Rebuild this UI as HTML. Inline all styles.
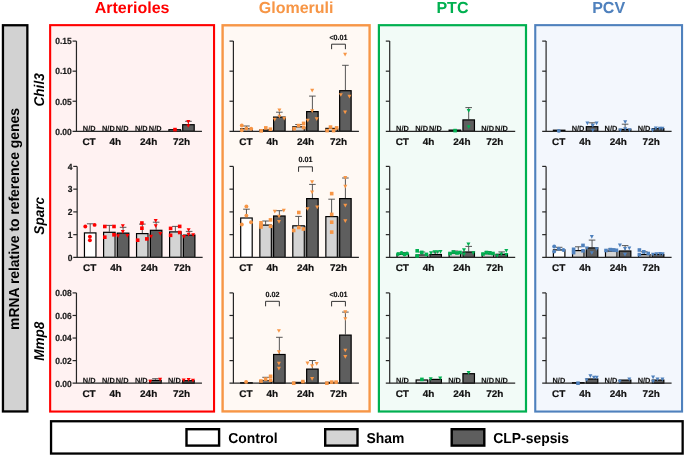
<!DOCTYPE html>
<html><head><meta charset="utf-8"><style>
html,body{margin:0;padding:0;background:#fff;width:685px;height:457px;overflow:hidden}
svg{display:block;will-change:transform}
text{font-family:"Liberation Sans",sans-serif;font-weight:bold;text-rendering:geometricPrecision}
.ttl{font-size:16px}
.ylab{font-size:13.9px;fill:#000}
.gene{font-size:13.6px;font-style:italic;fill:#000}
.yt{font-size:8.5px;fill:#1a1a1a;stroke:#1a1a1a;stroke-width:0.2px}
.xt{font-size:10px;fill:#111;stroke:#111;stroke-width:0.2px}
.nd{font-size:7.4px;fill:#111;stroke:#111;stroke-width:0.1px}
.sig{font-size:7.2px;fill:#111;stroke:#111;stroke-width:0.15px}
.leg{font-size:13.9px;fill:#000}
</style></head><body>
<svg width="685" height="457" viewBox="0 0 685 457">
<rect x="50.15" y="25.15" width="163.9" height="386.4" fill="#fff2f2" stroke="#ff0000" stroke-width="2.1"/>
<text transform="translate(132.1,13)" text-anchor="middle" class="ttl" fill="#ff0000">Arterioles</text>
<rect x="222.6" y="25.3" width="147" height="386.1" fill="#fff9f4" stroke="#f79646" stroke-width="2.4"/>
<text transform="translate(296.1,13)" text-anchor="middle" class="ttl" fill="#f79646">Glomeruli</text>
<rect x="378.9" y="25.2" width="147.1" height="386.3" fill="#f2fbf7" stroke="#00b050" stroke-width="2.2"/>
<text transform="translate(452.45,13)" text-anchor="middle" class="ttl" fill="#00b050">PTC</text>
<rect x="535.25" y="25.15" width="146.8" height="386.4" fill="#f3f7fd" stroke="#4f81bd" stroke-width="2.1"/>
<text transform="translate(608.65,13)" text-anchor="middle" class="ttl" fill="#4f81bd">PCV</text>
<rect x="2.95" y="25.25" width="24.4" height="386.2" fill="#d2d2d2" stroke="#000" stroke-width="2.3"/>
<text transform="translate(19.3,219) rotate(-90) scale(1,1.04)" text-anchor="middle" class="ylab">mRNA relative to reference genes</text>
<text transform="translate(44.4,89.9) rotate(-90) scale(1,1.04)" text-anchor="middle" class="gene">Chil3</text>
<text transform="translate(44.4,215.8) rotate(-90) scale(1,1.04)" text-anchor="middle" class="gene">Sparc</text>
<text transform="translate(44.4,341.2) rotate(-90) scale(1,1.04)" text-anchor="middle" class="gene">Mmp8</text>
<g><text transform="translate(89.2,130.6)" text-anchor="middle" class="nd">N/D</text><text transform="translate(108.35,130.6)" text-anchor="middle" class="nd">N/D</text><text transform="translate(122.1,130.6)" text-anchor="middle" class="nd">N/D</text><text transform="translate(141.3,130.6)" text-anchor="middle" class="nd">N/D</text><text transform="translate(155.15,130.6)" text-anchor="middle" class="nd">N/D</text><rect x="168.9" y="129.7" width="11.5" height="1.6" fill="#d4d4d4" stroke="#000" stroke-width="1.2"/><path d="M188.45 124.1V121.3M185.15 121.3H191.75" stroke="#444" stroke-width="0.9" fill="none"/><rect x="182.7" y="124.7" width="11.5" height="6.6" fill="#5e5e5e" stroke="#000" stroke-width="1.2"/><rect x="181" y="129.7" width="1.1" height="1.6" fill="#888"/><path d="M76.45 41.1V131.3" stroke="#262626" stroke-width="1.2" fill="none"/><path d="M72.55 131.3H201.95" stroke="#262626" stroke-width="1.2" fill="none"/><path d="M72.55 41.1H76.45" stroke="#262626" stroke-width="1.2" fill="none"/><path d="M72.55 71.17H76.45" stroke="#262626" stroke-width="1.2" fill="none"/><path d="M72.55 101.23H76.45" stroke="#262626" stroke-width="1.2" fill="none"/><text transform="translate(71.75,44.2) scale(1,1.04)" text-anchor="end" class="yt">0.15</text><text transform="translate(71.75,74.39) scale(1,1.04)" text-anchor="end" class="yt">0.10</text><text transform="translate(71.75,104.57) scale(1,1.04)" text-anchor="end" class="yt">0.05</text><text transform="translate(71.75,134.76) scale(1,1.04)" text-anchor="end" class="yt">0.00</text><text transform="translate(89.05,144.9) scale(1,0.97)" text-anchor="middle" class="xt">CT</text><text transform="translate(115.35,144.9) scale(1,0.97)" text-anchor="middle" class="xt">4h</text><text transform="translate(148.65,144.9) scale(1,0.97)" text-anchor="middle" class="xt">24h</text><text transform="translate(181.55,144.9) scale(1,0.97)" text-anchor="middle" class="xt">72h</text><g fill="#ff0000"><rect x="173.2" y="127.8" width="3.6" height="3.6"/><path d="M186.3 119.94H190.3L188.3 123.66Z"/><path d="M186.3 124.14H190.3L188.3 127.86Z"/></g></g>
<g><path d="M90.2 232.3V223.8M86.9 223.8H93.5" stroke="#444" stroke-width="0.9" fill="none"/><rect x="84.45" y="232.9" width="11.5" height="24.5" fill="#ffffff" stroke="#000" stroke-width="1.2"/><path d="M109.35 231.7V225.4M106.05 225.4H112.65" stroke="#444" stroke-width="0.9" fill="none"/><rect x="103.6" y="232.3" width="11.5" height="25.1" fill="#d4d4d4" stroke="#000" stroke-width="1.2"/><path d="M123.1 232.5V227.3M119.8 227.3H126.4" stroke="#444" stroke-width="0.9" fill="none"/><rect x="117.35" y="233.1" width="11.5" height="24.3" fill="#5e5e5e" stroke="#000" stroke-width="1.2"/><path d="M142.3 233V224.1M139 224.1H145.6" stroke="#444" stroke-width="0.9" fill="none"/><rect x="136.55" y="233.6" width="11.5" height="23.8" fill="#d4d4d4" stroke="#000" stroke-width="1.2"/><path d="M156.15 229.7V222.2M152.85 222.2H159.45" stroke="#444" stroke-width="0.9" fill="none"/><rect x="150.4" y="230.3" width="11.5" height="27.1" fill="#5e5e5e" stroke="#000" stroke-width="1.2"/><path d="M175.35 231.3V226.4M172.05 226.4H178.65" stroke="#444" stroke-width="0.9" fill="none"/><rect x="169.6" y="231.9" width="11.5" height="25.5" fill="#d4d4d4" stroke="#000" stroke-width="1.2"/><path d="M189.15 234.5V231.4M185.85 231.4H192.45" stroke="#444" stroke-width="0.9" fill="none"/><rect x="183.4" y="235.1" width="11.5" height="22.3" fill="#5e5e5e" stroke="#000" stroke-width="1.2"/><rect x="115.7" y="233.1" width="1.05" height="24.3" fill="#888"/><rect x="148.65" y="233.6" width="1.15" height="23.8" fill="#888"/><rect x="181.7" y="235.1" width="1.1" height="22.3" fill="#888"/><path d="M77.15 166.4V257.4" stroke="#262626" stroke-width="1.2" fill="none"/><path d="M73.25 257.4H202.65" stroke="#262626" stroke-width="1.2" fill="none"/><path d="M73.25 166.4H77.15" stroke="#262626" stroke-width="1.2" fill="none"/><path d="M73.25 189.15H77.15" stroke="#262626" stroke-width="1.2" fill="none"/><path d="M73.25 211.9H77.15" stroke="#262626" stroke-width="1.2" fill="none"/><path d="M73.25 234.65H77.15" stroke="#262626" stroke-width="1.2" fill="none"/><text transform="translate(72.45,169.5) scale(1,1.04)" text-anchor="end" class="yt">4</text><text transform="translate(72.45,192.37) scale(1,1.04)" text-anchor="end" class="yt">3</text><text transform="translate(72.45,215.24) scale(1,1.04)" text-anchor="end" class="yt">2</text><text transform="translate(72.45,238.11) scale(1,1.04)" text-anchor="end" class="yt">1</text><text transform="translate(72.45,260.98) scale(1,1.04)" text-anchor="end" class="yt">0</text><text transform="translate(89.75,271) scale(1,0.97)" text-anchor="middle" class="xt">CT</text><text transform="translate(116.05,271) scale(1,0.97)" text-anchor="middle" class="xt">4h</text><text transform="translate(149.35,271) scale(1,0.97)" text-anchor="middle" class="xt">24h</text><text transform="translate(182.25,271) scale(1,0.97)" text-anchor="middle" class="xt">72h</text><g fill="#ff0000"><circle cx="85.3" cy="226.5" r="1.95"/><circle cx="94.6" cy="224.9" r="1.95"/><circle cx="89.9" cy="236.6" r="1.95"/><circle cx="89.9" cy="240.2" r="1.95"/><rect x="103" y="224.7" width="3.6" height="3.6"/><rect x="112.2" y="224.7" width="3.6" height="3.6"/><rect x="103" y="235.4" width="3.6" height="3.6"/><rect x="112.2" y="233" width="3.6" height="3.6"/><path d="M120.8 224.14H124.8L122.8 227.86Z"/><path d="M120.8 229.94H124.8L122.8 233.66Z"/><path d="M116.1 234.24H120.1L118.1 237.96Z"/><path d="M125.4 233.94H129.4L127.4 237.66Z"/><rect x="140.1" y="221.2" width="3.6" height="3.6"/><rect x="140.1" y="226.4" width="3.6" height="3.6"/><rect x="135.9" y="238.4" width="3.6" height="3.6"/><rect x="145" y="237.1" width="3.6" height="3.6"/><path d="M153.7 219.04H157.7L155.7 222.76Z"/><path d="M153.7 224.34H157.7L155.7 228.06Z"/><path d="M149.1 234.74H153.1L151.1 238.46Z"/><path d="M158.3 232.04H162.3L160.3 235.76Z"/><rect x="168.8" y="226.6" width="3.6" height="3.6"/><rect x="177.9" y="224.6" width="3.6" height="3.6"/><rect x="168.8" y="233.5" width="3.6" height="3.6"/><rect x="177.9" y="230.7" width="3.6" height="3.6"/><path d="M186.6 228.14H190.6L188.6 231.86Z"/><path d="M186.6 232.74H190.6L188.6 236.46Z"/><path d="M181.9 235.04H185.9L183.9 238.76Z"/><path d="M191.2 233.24H195.2L193.2 236.96Z"/></g></g>
<g><text transform="translate(89.2,382.5)" text-anchor="middle" class="nd">N/D</text><text transform="translate(108.35,382.5)" text-anchor="middle" class="nd">N/D</text><text transform="translate(122.1,382.5)" text-anchor="middle" class="nd">N/D</text><text transform="translate(141.3,382.5)" text-anchor="middle" class="nd">N/D</text><path d="M155.45 379.8V378.7M152.15 378.7H158.75" stroke="#444" stroke-width="0.9" fill="none"/><rect x="149.7" y="380.4" width="11.5" height="2.8" fill="#5e5e5e" stroke="#000" stroke-width="1.2"/><text transform="translate(174.35,382.5)" text-anchor="middle" class="nd">N/D</text><rect x="182.7" y="380.7" width="11.5" height="2.5" fill="#5e5e5e" stroke="#000" stroke-width="1.2"/><path d="M76.45 292.9V383.2" stroke="#262626" stroke-width="1.2" fill="none"/><path d="M72.55 383.2H201.95" stroke="#262626" stroke-width="1.2" fill="none"/><path d="M72.55 292.9H76.45" stroke="#262626" stroke-width="1.2" fill="none"/><path d="M72.55 315.47H76.45" stroke="#262626" stroke-width="1.2" fill="none"/><path d="M72.55 338.05H76.45" stroke="#262626" stroke-width="1.2" fill="none"/><path d="M72.55 360.62H76.45" stroke="#262626" stroke-width="1.2" fill="none"/><text transform="translate(71.75,296) scale(1,1.04)" text-anchor="end" class="yt">0.08</text><text transform="translate(71.75,318.69) scale(1,1.04)" text-anchor="end" class="yt">0.06</text><text transform="translate(71.75,341.39) scale(1,1.04)" text-anchor="end" class="yt">0.04</text><text transform="translate(71.75,364.09) scale(1,1.04)" text-anchor="end" class="yt">0.02</text><text transform="translate(71.75,386.78) scale(1,1.04)" text-anchor="end" class="yt">0.00</text><text transform="translate(89.05,396.8) scale(1,0.97)" text-anchor="middle" class="xt">CT</text><text transform="translate(115.35,396.8) scale(1,0.97)" text-anchor="middle" class="xt">4h</text><text transform="translate(148.65,396.8) scale(1,0.97)" text-anchor="middle" class="xt">24h</text><text transform="translate(181.55,396.8) scale(1,0.97)" text-anchor="middle" class="xt">72h</text><g fill="#ff0000"><path d="M148.3 379.64H152.3L150.3 383.36Z"/><path d="M158.1 377.74H162.1L160.1 381.46Z"/><path d="M181.7 378.54H185.7L183.7 382.26Z"/><path d="M186.6 377.94H190.6L188.6 381.66Z"/><path d="M191 378.84H195L193 382.56Z"/></g></g>
<g><path d="M246.45 128.2V126M243.15 126H249.75" stroke="#444" stroke-width="0.9" fill="none"/><rect x="240.7" y="128.8" width="11.5" height="2.5" fill="#ffffff" stroke="#000" stroke-width="1.2"/><rect x="259.85" y="129.9" width="11.5" height="1.4" fill="#d4d4d4" stroke="#000" stroke-width="1.2"/><path d="M279.35 116.5V112.2M276.05 112.2H282.65" stroke="#444" stroke-width="0.9" fill="none"/><rect x="273.6" y="117.1" width="11.5" height="14.2" fill="#5e5e5e" stroke="#000" stroke-width="1.2"/><path d="M298.55 126.2V124.5M295.25 124.5H301.85" stroke="#444" stroke-width="0.9" fill="none"/><rect x="292.8" y="126.8" width="11.5" height="4.5" fill="#d4d4d4" stroke="#000" stroke-width="1.2"/><path d="M312.4 111V96.1M309.1 96.1H315.7" stroke="#444" stroke-width="0.9" fill="none"/><rect x="306.65" y="111.6" width="11.5" height="19.7" fill="#5e5e5e" stroke="#000" stroke-width="1.2"/><rect x="325.85" y="128.4" width="11.5" height="2.9" fill="#d4d4d4" stroke="#000" stroke-width="1.2"/><path d="M345.4 90.1V65.3M342.1 65.3H348.7" stroke="#444" stroke-width="0.9" fill="none"/><rect x="339.65" y="90.7" width="11.5" height="40.6" fill="#5e5e5e" stroke="#000" stroke-width="1.2"/><rect x="271.95" y="129.9" width="1.05" height="1.4" fill="#888"/><rect x="304.9" y="126.8" width="1.15" height="4.5" fill="#888"/><rect x="337.95" y="128.4" width="1.1" height="2.9" fill="#888"/><path d="M233.4 41.1V131.3" stroke="#262626" stroke-width="1.2" fill="none"/><path d="M229.5 131.3H358.9" stroke="#262626" stroke-width="1.2" fill="none"/><path d="M229.5 41.1H233.4" stroke="#262626" stroke-width="1.2" fill="none"/><path d="M229.5 71.17H233.4" stroke="#262626" stroke-width="1.2" fill="none"/><path d="M229.5 101.23H233.4" stroke="#262626" stroke-width="1.2" fill="none"/><text transform="translate(246,144.9) scale(1,0.97)" text-anchor="middle" class="xt">CT</text><text transform="translate(272.3,144.9) scale(1,0.97)" text-anchor="middle" class="xt">4h</text><text transform="translate(305.6,144.9) scale(1,0.97)" text-anchor="middle" class="xt">24h</text><text transform="translate(338.5,144.9) scale(1,0.97)" text-anchor="middle" class="xt">72h</text><g fill="#f79646"><circle cx="241.8" cy="125.5" r="1.95"/><circle cx="241.8" cy="130.3" r="1.95"/><circle cx="246.4" cy="128.5" r="1.95"/><circle cx="251.2" cy="128.7" r="1.95"/><rect x="259.4" y="129" width="3.6" height="3.6"/><rect x="264" y="126.1" width="3.6" height="3.6"/><rect x="268.6" y="127.4" width="3.6" height="3.6"/><path d="M277.4 108.54H281.4L279.4 112.26Z"/><path d="M277.4 114.64H281.4L279.4 118.36Z"/><path d="M272.7 117.74H276.7L274.7 121.46Z"/><path d="M282.2 116.74H286.2L284.2 120.46Z"/><rect x="292.3" y="126.9" width="3.6" height="3.6"/><rect x="296.8" y="123.8" width="3.6" height="3.6"/><rect x="301.8" y="121.6" width="3.6" height="3.6"/><rect x="301.8" y="125.7" width="3.6" height="3.6"/><path d="M310.2 88.84H314.2L312.2 92.56Z"/><path d="M310.2 109.24H314.2L312.2 112.96Z"/><path d="M305.8 118.84H309.8L307.8 122.56Z"/><path d="M314.7 117.24H318.7L316.7 120.96Z"/><rect x="325.3" y="128.8" width="3.6" height="3.6"/><rect x="328.7" y="125.3" width="3.6" height="3.6"/><rect x="331.8" y="128.8" width="3.6" height="3.6"/><rect x="334.8" y="126.1" width="3.6" height="3.6"/><path d="M343.1 52.74H347.1L345.1 56.46Z"/><path d="M338.8 93.14H342.8L340.8 96.86Z"/><path d="M347.4 94.84H351.4L349.4 98.56Z"/><path d="M343.1 110.44H347.1L345.1 114.16Z"/></g><text transform="translate(338.5,39.8) scale(1,1.04)" text-anchor="middle" class="sig">&lt;0.01</text><path d="M331.6 49.2V44.2H345.4V49.2" stroke="#333" stroke-width="1" fill="none"/></g>
<g><path d="M246.45 217.4V209.2M243.15 209.2H249.75" stroke="#444" stroke-width="0.9" fill="none"/><rect x="240.7" y="218" width="11.5" height="39.4" fill="#ffffff" stroke="#000" stroke-width="1.2"/><path d="M265.6 224.5V221M262.3 221H268.9" stroke="#444" stroke-width="0.9" fill="none"/><rect x="259.85" y="225.1" width="11.5" height="32.3" fill="#d4d4d4" stroke="#000" stroke-width="1.2"/><path d="M279.35 215.4V210.7M276.05 210.7H282.65" stroke="#444" stroke-width="0.9" fill="none"/><rect x="273.6" y="216" width="11.5" height="41.4" fill="#5e5e5e" stroke="#000" stroke-width="1.2"/><path d="M298.55 225.2V216.4M295.25 216.4H301.85" stroke="#444" stroke-width="0.9" fill="none"/><rect x="292.8" y="225.8" width="11.5" height="31.6" fill="#d4d4d4" stroke="#000" stroke-width="1.2"/><path d="M312.4 198V184.4M309.1 184.4H315.7" stroke="#444" stroke-width="0.9" fill="none"/><rect x="306.65" y="198.6" width="11.5" height="58.8" fill="#5e5e5e" stroke="#000" stroke-width="1.2"/><path d="M331.6 216V199.2M328.3 199.2H334.9" stroke="#444" stroke-width="0.9" fill="none"/><rect x="325.85" y="216.6" width="11.5" height="40.8" fill="#d4d4d4" stroke="#000" stroke-width="1.2"/><path d="M345.4 198V178M342.1 178H348.7" stroke="#444" stroke-width="0.9" fill="none"/><rect x="339.65" y="198.6" width="11.5" height="58.8" fill="#5e5e5e" stroke="#000" stroke-width="1.2"/><rect x="271.95" y="225.1" width="1.05" height="32.3" fill="#888"/><rect x="304.9" y="225.8" width="1.15" height="31.6" fill="#888"/><rect x="337.95" y="216.6" width="1.1" height="40.8" fill="#888"/><path d="M233.4 166.4V257.4" stroke="#262626" stroke-width="1.2" fill="none"/><path d="M229.5 257.4H358.9" stroke="#262626" stroke-width="1.2" fill="none"/><path d="M229.5 166.4H233.4" stroke="#262626" stroke-width="1.2" fill="none"/><path d="M229.5 189.15H233.4" stroke="#262626" stroke-width="1.2" fill="none"/><path d="M229.5 211.9H233.4" stroke="#262626" stroke-width="1.2" fill="none"/><path d="M229.5 234.65H233.4" stroke="#262626" stroke-width="1.2" fill="none"/><text transform="translate(246,271) scale(1,0.97)" text-anchor="middle" class="xt">CT</text><text transform="translate(272.3,271) scale(1,0.97)" text-anchor="middle" class="xt">4h</text><text transform="translate(305.6,271) scale(1,0.97)" text-anchor="middle" class="xt">24h</text><text transform="translate(338.5,271) scale(1,0.97)" text-anchor="middle" class="xt">72h</text><g fill="#f79646"><circle cx="246.4" cy="206.4" r="1.95"/><circle cx="246.4" cy="215.6" r="1.95"/><circle cx="241.8" cy="224.5" r="1.95"/><circle cx="251" cy="222.3" r="1.95"/><rect x="259.2" y="221" width="3.6" height="3.6"/><rect x="259.2" y="225.2" width="3.6" height="3.6"/><rect x="268.7" y="218.1" width="3.6" height="3.6"/><rect x="268.7" y="224.5" width="3.6" height="3.6"/><rect x="259.2" y="223.1" width="3.6" height="3.6"/><path d="M272.8 209.84H276.8L274.8 213.56Z"/><path d="M281.8 208.74H285.8L283.8 212.46Z"/><path d="M277 214.64H281L279 218.36Z"/><path d="M277 220.04H281L279 223.76Z"/><rect x="297" y="210.7" width="3.6" height="3.6"/><rect x="291.9" y="228.7" width="3.6" height="3.6"/><rect x="297" y="225.7" width="3.6" height="3.6"/><rect x="301.6" y="227.2" width="3.6" height="3.6"/><path d="M310.1 180.24H314.1L312.1 183.96Z"/><path d="M310.1 190.54H314.1L312.1 194.26Z"/><path d="M305.5 207.14H309.5L307.5 210.86Z"/><path d="M315.2 205.54H319.2L317.2 209.26Z"/><rect x="329.9" y="191.8" width="3.6" height="3.6"/><rect x="329.9" y="212.6" width="3.6" height="3.6"/><rect x="329.9" y="220.4" width="3.6" height="3.6"/><rect x="329.9" y="230.3" width="3.6" height="3.6"/><path d="M343.3 176.04H347.3L345.3 179.76Z"/><path d="M343.3 184.74H347.3L345.3 188.46Z"/><path d="M343.3 203.84H347.3L345.3 207.56Z"/><path d="M343.3 219.34H347.3L345.3 223.06Z"/></g><text transform="translate(305.48,162.4) scale(1,1.04)" text-anchor="middle" class="sig">0.01</text><path d="M298.55 171.8V166.8H312.4V171.8" stroke="#333" stroke-width="1" fill="none"/></g>
<g><rect x="240.7" y="382.7" width="11.5" height="0.5" fill="#ffffff" stroke="#000" stroke-width="1.2"/><path d="M265.6 380.2V377.3M262.3 377.3H268.9" stroke="#444" stroke-width="0.9" fill="none"/><rect x="259.85" y="380.8" width="11.5" height="2.4" fill="#d4d4d4" stroke="#000" stroke-width="1.2"/><path d="M279.35 353.9V337.3M276.05 337.3H282.65" stroke="#444" stroke-width="0.9" fill="none"/><rect x="273.6" y="354.5" width="11.5" height="28.7" fill="#5e5e5e" stroke="#000" stroke-width="1.2"/><rect x="292.8" y="382.4" width="11.5" height="0.8" fill="#d4d4d4" stroke="#000" stroke-width="1.2"/><path d="M312.4 368.5V360.5M309.1 360.5H315.7" stroke="#444" stroke-width="0.9" fill="none"/><rect x="306.65" y="369.1" width="11.5" height="14.1" fill="#5e5e5e" stroke="#000" stroke-width="1.2"/><rect x="325.85" y="382.4" width="11.5" height="0.8" fill="#d4d4d4" stroke="#000" stroke-width="1.2"/><path d="M345.4 334.5V312.1M342.1 312.1H348.7" stroke="#444" stroke-width="0.9" fill="none"/><rect x="339.65" y="335.1" width="11.5" height="48.1" fill="#5e5e5e" stroke="#000" stroke-width="1.2"/><rect x="271.95" y="380.8" width="1.05" height="2.4" fill="#888"/><rect x="304.9" y="382.4" width="1.15" height="0.8" fill="#888"/><rect x="337.95" y="382.4" width="1.1" height="0.8" fill="#888"/><path d="M233.4 292.9V383.2" stroke="#262626" stroke-width="1.2" fill="none"/><path d="M229.5 383.2H358.9" stroke="#262626" stroke-width="1.2" fill="none"/><path d="M229.5 292.9H233.4" stroke="#262626" stroke-width="1.2" fill="none"/><path d="M229.5 315.47H233.4" stroke="#262626" stroke-width="1.2" fill="none"/><path d="M229.5 338.05H233.4" stroke="#262626" stroke-width="1.2" fill="none"/><path d="M229.5 360.62H233.4" stroke="#262626" stroke-width="1.2" fill="none"/><text transform="translate(246,396.8) scale(1,0.97)" text-anchor="middle" class="xt">CT</text><text transform="translate(272.3,396.8) scale(1,0.97)" text-anchor="middle" class="xt">4h</text><text transform="translate(305.6,396.8) scale(1,0.97)" text-anchor="middle" class="xt">24h</text><text transform="translate(338.5,396.8) scale(1,0.97)" text-anchor="middle" class="xt">72h</text><g fill="#f79646"><circle cx="246.1" cy="381.9" r="1.95"/><rect x="259.2" y="379.2" width="3.6" height="3.6"/><rect x="263.8" y="377.3" width="3.6" height="3.6"/><rect x="268.8" y="374.5" width="3.6" height="3.6"/><rect x="268.8" y="378.4" width="3.6" height="3.6"/><path d="M276.9 329.14H280.9L278.9 332.86Z"/><path d="M276.9 350.34H280.9L278.9 354.06Z"/><path d="M276.9 361.74H280.9L278.9 365.46Z"/><path d="M276.9 366.84H280.9L278.9 370.56Z"/><rect x="291.9" y="381.4" width="3.6" height="3.6"/><rect x="301.1" y="379.8" width="3.6" height="3.6"/><path d="M305.5 361.54H309.5L307.5 365.26Z"/><path d="M310.1 364.24H314.1L312.1 367.96Z"/><path d="M314.7 361.94H318.7L316.7 365.66Z"/><path d="M310.1 376.94H314.1L312.1 380.66Z"/><rect x="325.1" y="381.4" width="3.6" height="3.6"/><rect x="329.9" y="380.3" width="3.6" height="3.6"/><rect x="334.3" y="380.3" width="3.6" height="3.6"/><path d="M343.3 310.24H347.3L345.3 313.96Z"/><path d="M343.3 317.14H347.3L345.3 320.86Z"/><path d="M343.3 348.64H347.3L345.3 352.36Z"/><path d="M343.3 355.04H347.3L345.3 358.76Z"/></g><text transform="translate(272.48,296.9) scale(1,1.04)" text-anchor="middle" class="sig">0.02</text><path d="M265.6 306.3V301.3H279.35V306.3" stroke="#333" stroke-width="1" fill="none"/><text transform="translate(338.5,297) scale(1,1.04)" text-anchor="middle" class="sig">&lt;0.01</text><path d="M331.6 306.4V301.4H345.4V306.4" stroke="#333" stroke-width="1" fill="none"/></g>
<g><text transform="translate(402.45,130.6)" text-anchor="middle" class="nd">N/D</text><text transform="translate(421.6,130.6)" text-anchor="middle" class="nd">N/D</text><text transform="translate(435.35,130.6)" text-anchor="middle" class="nd">N/D</text><rect x="449.1" y="130.1" width="11.5" height="1.2" fill="#d4d4d4" stroke="#000" stroke-width="1.2"/><path d="M468.7 119.3V107.6M465.4 107.6H472" stroke="#444" stroke-width="0.9" fill="none"/><rect x="462.95" y="119.9" width="11.5" height="11.4" fill="#5e5e5e" stroke="#000" stroke-width="1.2"/><text transform="translate(487.6,130.6)" text-anchor="middle" class="nd">N/D</text><text transform="translate(501.4,130.6)" text-anchor="middle" class="nd">N/D</text><rect x="461.2" y="130.1" width="1.15" height="1.2" fill="#888"/><path d="M389.7 41.1V131.3" stroke="#262626" stroke-width="1.2" fill="none"/><path d="M385.8 131.3H515.2" stroke="#262626" stroke-width="1.2" fill="none"/><path d="M385.8 41.1H389.7" stroke="#262626" stroke-width="1.2" fill="none"/><path d="M385.8 71.17H389.7" stroke="#262626" stroke-width="1.2" fill="none"/><path d="M385.8 101.23H389.7" stroke="#262626" stroke-width="1.2" fill="none"/><text transform="translate(402.3,144.9) scale(1,0.97)" text-anchor="middle" class="xt">CT</text><text transform="translate(428.6,144.9) scale(1,0.97)" text-anchor="middle" class="xt">4h</text><text transform="translate(461.9,144.9) scale(1,0.97)" text-anchor="middle" class="xt">24h</text><text transform="translate(494.8,144.9) scale(1,0.97)" text-anchor="middle" class="xt">72h</text><g fill="#00b050"><rect x="453.3" y="128.8" width="3.6" height="3.6"/><path d="M466.7 109.04H470.7L468.7 112.76Z"/><path d="M466.7 125.14H470.7L468.7 128.86Z"/></g></g>
<g><path d="M402.75 253.9V252.5M399.45 252.5H406.05" stroke="#444" stroke-width="0.9" fill="none"/><rect x="397" y="254.5" width="11.5" height="2.9" fill="#ffffff" stroke="#000" stroke-width="1.2"/><path d="M421.9 254.4V252M418.6 252H425.2" stroke="#444" stroke-width="0.9" fill="none"/><rect x="416.15" y="255" width="11.5" height="2.4" fill="#d4d4d4" stroke="#000" stroke-width="1.2"/><path d="M435.65 253.9V252M432.35 252H438.95" stroke="#444" stroke-width="0.9" fill="none"/><rect x="429.9" y="254.5" width="11.5" height="2.9" fill="#5e5e5e" stroke="#000" stroke-width="1.2"/><path d="M454.85 252.5V251M451.55 251H458.15" stroke="#444" stroke-width="0.9" fill="none"/><rect x="449.1" y="253.1" width="11.5" height="4.3" fill="#d4d4d4" stroke="#000" stroke-width="1.2"/><path d="M468.7 251.4V246.4M465.4 246.4H472" stroke="#444" stroke-width="0.9" fill="none"/><rect x="462.95" y="252" width="11.5" height="5.4" fill="#5e5e5e" stroke="#000" stroke-width="1.2"/><path d="M487.9 253.1V251.5M484.6 251.5H491.2" stroke="#444" stroke-width="0.9" fill="none"/><rect x="482.15" y="253.7" width="11.5" height="3.7" fill="#d4d4d4" stroke="#000" stroke-width="1.2"/><path d="M501.7 253.7V251.9M498.4 251.9H505" stroke="#444" stroke-width="0.9" fill="none"/><rect x="495.95" y="254.3" width="11.5" height="3.1" fill="#5e5e5e" stroke="#000" stroke-width="1.2"/><rect x="428.25" y="255" width="1.05" height="2.4" fill="#888"/><rect x="461.2" y="253.1" width="1.15" height="4.3" fill="#888"/><rect x="494.25" y="254.3" width="1.1" height="3.1" fill="#888"/><path d="M389.7 166.4V257.4" stroke="#262626" stroke-width="1.2" fill="none"/><path d="M385.8 257.4H515.2" stroke="#262626" stroke-width="1.2" fill="none"/><path d="M385.8 166.4H389.7" stroke="#262626" stroke-width="1.2" fill="none"/><path d="M385.8 189.15H389.7" stroke="#262626" stroke-width="1.2" fill="none"/><path d="M385.8 211.9H389.7" stroke="#262626" stroke-width="1.2" fill="none"/><path d="M385.8 234.65H389.7" stroke="#262626" stroke-width="1.2" fill="none"/><text transform="translate(402.3,271) scale(1,0.97)" text-anchor="middle" class="xt">CT</text><text transform="translate(428.6,271) scale(1,0.97)" text-anchor="middle" class="xt">4h</text><text transform="translate(461.9,271) scale(1,0.97)" text-anchor="middle" class="xt">24h</text><text transform="translate(494.8,271) scale(1,0.97)" text-anchor="middle" class="xt">72h</text><g fill="#00b050"><circle cx="398" cy="254" r="1.95"/><circle cx="401.5" cy="253" r="1.95"/><circle cx="404.5" cy="254.5" r="1.95"/><circle cx="407" cy="253.5" r="1.95"/><rect x="415.4" y="249" width="3.6" height="3.6"/><rect x="415.4" y="254.1" width="3.6" height="3.6"/><rect x="420" y="250.6" width="3.6" height="3.6"/><rect x="424.6" y="252.6" width="3.6" height="3.6"/><path d="M429 251.24H433L431 254.96Z"/><path d="M432.5 250.24H436.5L434.5 253.96Z"/><path d="M435.5 250.24H439.5L437.5 253.96Z"/><path d="M438.5 250.04H442.5L440.5 253.76Z"/><rect x="448.2" y="251.7" width="3.6" height="3.6"/><rect x="451.7" y="250.2" width="3.6" height="3.6"/><rect x="455.2" y="251.2" width="3.6" height="3.6"/><rect x="458.2" y="250.7" width="3.6" height="3.6"/><path d="M466.4 242.54H470.4L468.4 246.26Z"/><path d="M462 248.34H466L464 252.06Z"/><path d="M462 252.44H466L464 256.16Z"/><path d="M471.3 251.24H475.3L473.3 254.96Z"/><rect x="481.2" y="252.2" width="3.6" height="3.6"/><rect x="484.7" y="250.7" width="3.6" height="3.6"/><rect x="488.2" y="251.2" width="3.6" height="3.6"/><rect x="491.2" y="251.7" width="3.6" height="3.6"/><path d="M495.2 254.14H499.2L497.2 257.86Z"/><path d="M499.3 252.44H503.3L501.3 256.16Z"/><path d="M504.3 248.94H508.3L506.3 252.66Z"/><path d="M504.3 253.04H508.3L506.3 256.76Z"/></g></g>
<g><text transform="translate(402.45,382.5)" text-anchor="middle" class="nd">N/D</text><rect x="416.15" y="380" width="11.5" height="3.2" fill="#d4d4d4" stroke="#000" stroke-width="1.2"/><rect x="429.9" y="379.4" width="11.5" height="3.8" fill="#5e5e5e" stroke="#000" stroke-width="1.2"/><text transform="translate(454.55,382.5)" text-anchor="middle" class="nd">N/D</text><rect x="462.95" y="373.7" width="11.5" height="9.5" fill="#5e5e5e" stroke="#000" stroke-width="1.2"/><text transform="translate(487.6,382.5)" text-anchor="middle" class="nd">N/D</text><text transform="translate(501.4,382.5)" text-anchor="middle" class="nd">N/D</text><rect x="428.25" y="380" width="1.05" height="3.2" fill="#888"/><path d="M389.7 292.9V383.2" stroke="#262626" stroke-width="1.2" fill="none"/><path d="M385.8 383.2H515.2" stroke="#262626" stroke-width="1.2" fill="none"/><path d="M385.8 292.9H389.7" stroke="#262626" stroke-width="1.2" fill="none"/><path d="M385.8 315.47H389.7" stroke="#262626" stroke-width="1.2" fill="none"/><path d="M385.8 338.05H389.7" stroke="#262626" stroke-width="1.2" fill="none"/><path d="M385.8 360.62H389.7" stroke="#262626" stroke-width="1.2" fill="none"/><text transform="translate(402.3,396.8) scale(1,0.97)" text-anchor="middle" class="xt">CT</text><text transform="translate(428.6,396.8) scale(1,0.97)" text-anchor="middle" class="xt">4h</text><text transform="translate(461.9,396.8) scale(1,0.97)" text-anchor="middle" class="xt">24h</text><text transform="translate(494.8,396.8) scale(1,0.97)" text-anchor="middle" class="xt">72h</text><g fill="#00b050"><rect x="420.1" y="377.6" width="3.6" height="3.6"/><path d="M428.7 377.14H432.7L430.7 380.86Z"/><path d="M438.2 376.44H442.2L440.2 380.16Z"/><path d="M466.6 370.94H470.6L468.6 374.66Z"/></g></g>
<g><rect x="553.4" y="130.2" width="11.5" height="1.1" fill="#ffffff" stroke="#000" stroke-width="1.2"/><text transform="translate(578,130.6)" text-anchor="middle" class="nd">N/D</text><path d="M592.05 126.1V122.8M588.75 122.8H595.35" stroke="#444" stroke-width="0.9" fill="none"/><rect x="586.3" y="126.7" width="11.5" height="4.6" fill="#5e5e5e" stroke="#000" stroke-width="1.2"/><text transform="translate(610.95,130.6)" text-anchor="middle" class="nd">N/D</text><path d="M625.1 128.8V124.2M621.8 124.2H628.4" stroke="#444" stroke-width="0.9" fill="none"/><rect x="619.35" y="129.4" width="11.5" height="1.9" fill="#5e5e5e" stroke="#000" stroke-width="1.2"/><text transform="translate(644,130.6)" text-anchor="middle" class="nd">N/D</text><rect x="652.35" y="128.7" width="11.5" height="2.6" fill="#5e5e5e" stroke="#000" stroke-width="1.2"/><path d="M546.1 41.1V131.3" stroke="#262626" stroke-width="1.2" fill="none"/><path d="M542.2 131.3H671.6" stroke="#262626" stroke-width="1.2" fill="none"/><path d="M542.2 41.1H546.1" stroke="#262626" stroke-width="1.2" fill="none"/><path d="M542.2 71.17H546.1" stroke="#262626" stroke-width="1.2" fill="none"/><path d="M542.2 101.23H546.1" stroke="#262626" stroke-width="1.2" fill="none"/><text transform="translate(558.7,144.9) scale(1,0.97)" text-anchor="middle" class="xt">CT</text><text transform="translate(585,144.9) scale(1,0.97)" text-anchor="middle" class="xt">4h</text><text transform="translate(618.3,144.9) scale(1,0.97)" text-anchor="middle" class="xt">24h</text><text transform="translate(651.2,144.9) scale(1,0.97)" text-anchor="middle" class="xt">72h</text><g fill="#4f81bd"><circle cx="558.8" cy="130.9" r="1.95"/><path d="M585.4 121.54H589.4L587.4 125.26Z"/><path d="M594.6 121.54H598.6L596.6 125.26Z"/><path d="M590.8 123.84H594.8L592.8 127.56Z"/><path d="M590.8 128.64H594.8L592.8 132.36Z"/><path d="M623.2 120.24H627.2L625.2 123.96Z"/><path d="M618.3 128.44H622.3L620.3 132.16Z"/><path d="M623.2 127.34H627.2L625.2 131.06Z"/><path d="M627.6 128.24H631.6L629.6 131.96Z"/><path d="M650.6 128.44H654.6L652.6 132.16Z"/><path d="M653.8 126.44H657.8L655.8 130.16Z"/><path d="M657.7 126.84H661.7L659.7 130.56Z"/><path d="M660.4 126.84H664.4L662.4 130.56Z"/></g></g>
<g><path d="M559.15 249.3V247.3M555.85 247.3H562.45" stroke="#444" stroke-width="0.9" fill="none"/><rect x="553.4" y="249.9" width="11.5" height="7.5" fill="#ffffff" stroke="#000" stroke-width="1.2"/><path d="M578.3 250V246.8M575 246.8H581.6" stroke="#444" stroke-width="0.9" fill="none"/><rect x="572.55" y="250.6" width="11.5" height="6.8" fill="#d4d4d4" stroke="#000" stroke-width="1.2"/><path d="M592.05 247.3V240.1M588.75 240.1H595.35" stroke="#444" stroke-width="0.9" fill="none"/><rect x="586.3" y="247.9" width="11.5" height="9.5" fill="#5e5e5e" stroke="#000" stroke-width="1.2"/><path d="M611.25 250.4V249M607.95 249H614.55" stroke="#444" stroke-width="0.9" fill="none"/><rect x="605.5" y="251" width="11.5" height="6.4" fill="#d4d4d4" stroke="#000" stroke-width="1.2"/><path d="M625.1 250.4V245.6M621.8 245.6H628.4" stroke="#444" stroke-width="0.9" fill="none"/><rect x="619.35" y="251" width="11.5" height="6.4" fill="#5e5e5e" stroke="#000" stroke-width="1.2"/><path d="M644.3 254V251.8M641 251.8H647.6" stroke="#444" stroke-width="0.9" fill="none"/><rect x="638.55" y="254.6" width="11.5" height="2.8" fill="#d4d4d4" stroke="#000" stroke-width="1.2"/><rect x="652.35" y="254.3" width="11.5" height="3.1" fill="#5e5e5e" stroke="#000" stroke-width="1.2"/><rect x="584.65" y="250.6" width="1.05" height="6.8" fill="#888"/><rect x="617.6" y="251" width="1.15" height="6.4" fill="#888"/><rect x="650.65" y="254.6" width="1.1" height="2.8" fill="#888"/><path d="M546.1 166.4V257.4" stroke="#262626" stroke-width="1.2" fill="none"/><path d="M542.2 257.4H671.6" stroke="#262626" stroke-width="1.2" fill="none"/><path d="M542.2 166.4H546.1" stroke="#262626" stroke-width="1.2" fill="none"/><path d="M542.2 189.15H546.1" stroke="#262626" stroke-width="1.2" fill="none"/><path d="M542.2 211.9H546.1" stroke="#262626" stroke-width="1.2" fill="none"/><path d="M542.2 234.65H546.1" stroke="#262626" stroke-width="1.2" fill="none"/><text transform="translate(558.7,271) scale(1,0.97)" text-anchor="middle" class="xt">CT</text><text transform="translate(585,271) scale(1,0.97)" text-anchor="middle" class="xt">4h</text><text transform="translate(618.3,271) scale(1,0.97)" text-anchor="middle" class="xt">24h</text><text transform="translate(651.2,271) scale(1,0.97)" text-anchor="middle" class="xt">72h</text><g fill="#4f81bd"><circle cx="554.2" cy="246.5" r="1.95"/><circle cx="554.2" cy="251.6" r="1.95"/><circle cx="558.8" cy="248.7" r="1.95"/><circle cx="563.4" cy="250" r="1.95"/><rect x="571.8" y="247.5" width="3.6" height="3.6"/><rect x="571.8" y="250.8" width="3.6" height="3.6"/><rect x="581.2" y="243.6" width="3.6" height="3.6"/><rect x="581.2" y="249" width="3.6" height="3.6"/><path d="M589.8 234.94H593.8L591.8 238.66Z"/><path d="M584.9 246.44H588.9L586.9 250.16Z"/><path d="M594.6 247.24H598.6L596.6 250.96Z"/><path d="M589.8 251.14H593.8L591.8 254.86Z"/><rect x="604.2" y="248.7" width="3.6" height="3.6"/><rect x="608.6" y="247.8" width="3.6" height="3.6"/><rect x="611.9" y="248.2" width="3.6" height="3.6"/><rect x="614.6" y="248.5" width="3.6" height="3.6"/><path d="M617.9 243.44H621.9L619.9 247.16Z"/><path d="M623 246.94H627L625 250.66Z"/><path d="M627.3 246.54H631.3L629.3 250.26Z"/><path d="M623 252.74H627L625 256.46Z"/><rect x="637.6" y="248.2" width="3.6" height="3.6"/><rect x="637.6" y="252.8" width="3.6" height="3.6"/><rect x="642" y="250" width="3.6" height="3.6"/><rect x="646.4" y="251.7" width="3.6" height="3.6"/><path d="M651 252.74H655L653 256.46Z"/><path d="M654.5 252.24H658.5L656.5 255.96Z"/><path d="M658 251.94H662L660 255.66Z"/><path d="M660.6 252.24H664.6L662.6 255.96Z"/></g></g>
<g><text transform="translate(558.85,382.5)" text-anchor="middle" class="nd">N/D</text><rect x="572.55" y="382.6" width="11.5" height="0.6" fill="#d4d4d4" stroke="#000" stroke-width="1.2"/><rect x="586.3" y="379" width="11.5" height="4.2" fill="#5e5e5e" stroke="#000" stroke-width="1.2"/><text transform="translate(610.95,382.5)" text-anchor="middle" class="nd">N/D</text><rect x="619.35" y="380.1" width="11.5" height="3.1" fill="#5e5e5e" stroke="#000" stroke-width="1.2"/><text transform="translate(644,382.5)" text-anchor="middle" class="nd">N/D</text><rect x="652.35" y="380.1" width="11.5" height="3.1" fill="#5e5e5e" stroke="#000" stroke-width="1.2"/><rect x="584.65" y="382.6" width="1.05" height="0.6" fill="#888"/><path d="M546.1 292.9V383.2" stroke="#262626" stroke-width="1.2" fill="none"/><path d="M542.2 383.2H671.6" stroke="#262626" stroke-width="1.2" fill="none"/><path d="M542.2 292.9H546.1" stroke="#262626" stroke-width="1.2" fill="none"/><path d="M542.2 315.47H546.1" stroke="#262626" stroke-width="1.2" fill="none"/><path d="M542.2 338.05H546.1" stroke="#262626" stroke-width="1.2" fill="none"/><path d="M542.2 360.62H546.1" stroke="#262626" stroke-width="1.2" fill="none"/><text transform="translate(558.7,396.8) scale(1,0.97)" text-anchor="middle" class="xt">CT</text><text transform="translate(585,396.8) scale(1,0.97)" text-anchor="middle" class="xt">4h</text><text transform="translate(618.3,396.8) scale(1,0.97)" text-anchor="middle" class="xt">24h</text><text transform="translate(651.2,396.8) scale(1,0.97)" text-anchor="middle" class="xt">72h</text><g fill="#4f81bd"><rect x="576.2" y="381.4" width="3.6" height="3.6"/><path d="M584.7 378.14H588.7L586.7 381.86Z"/><path d="M588.4 374.34H592.4L590.4 378.06Z"/><path d="M591.9 375.74H595.9L593.9 379.46Z"/><path d="M594.7 375.74H598.7L596.7 379.46Z"/><path d="M617.7 379.84H621.7L619.7 383.56Z"/><path d="M627.3 377.44H631.3L629.3 381.16Z"/><path d="M651.1 375.54H655.1L653.1 379.26Z"/><path d="M651.1 379.84H655.1L653.1 383.56Z"/><path d="M655.5 377.44H659.5L657.5 381.16Z"/><path d="M660.4 377.44H664.4L662.4 381.16Z"/></g></g>
<rect x="51.05" y="421.25" width="631.6" height="32.3" fill="#fff" stroke="#000" stroke-width="2.3"/>
<rect x="186.5" y="429.2" width="32.6" height="16.4" fill="#ffffff" stroke="#000" stroke-width="2.4"/>
<text transform="translate(228.3,442.6) scale(1,1.04)" class="leg">Control</text>
<rect x="325.2" y="429.2" width="32.3" height="16.4" fill="#d4d4d4" stroke="#000" stroke-width="2.4"/>
<text transform="translate(366.5,442.6) scale(1,1.04)" class="leg">Sham</text>
<rect x="451.7" y="429.2" width="32.6" height="16.4" fill="#5e5e5e" stroke="#000" stroke-width="2.4"/>
<text transform="translate(493.3,442.6) scale(1,1.04)" class="leg">CLP-sepsis</text>
</svg>
</body></html>
